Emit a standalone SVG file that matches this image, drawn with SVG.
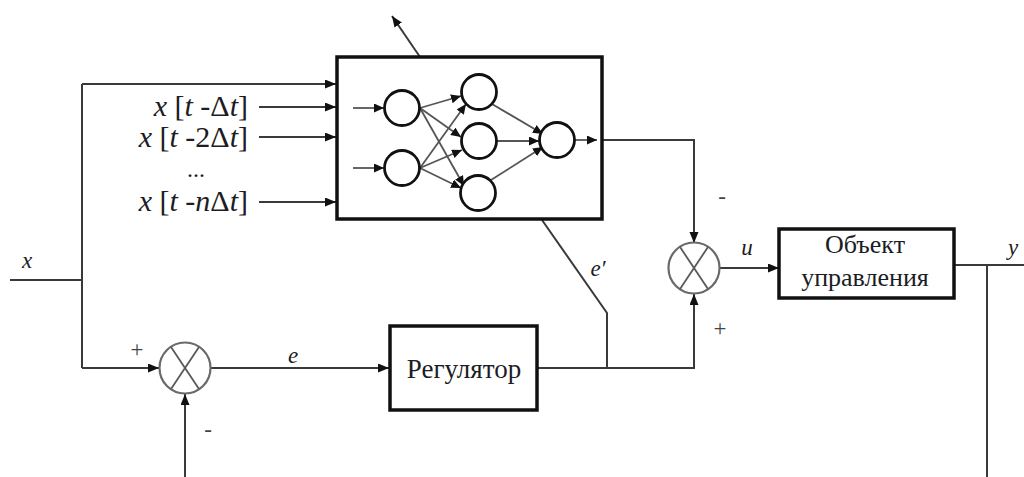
<svg xmlns="http://www.w3.org/2000/svg" width="1024" height="477" viewBox="0 0 1024 477">
<style>
.bg{fill:#ffffff}
.ln{fill:none;stroke:#3a3a3a;stroke-width:2}
.nl{fill:none;stroke:#555;stroke-width:1.8}
.box{fill:#ffffff;stroke:#111;stroke-width:3.5}
.neu{fill:#ffffff;stroke:#111;stroke-width:2.8}
.sum{fill:#ffffff;stroke:#6a6a6a;stroke-width:2.2}
.sx{stroke:#5a5a5a;stroke-width:1.8}
text{font-family:"Liberation Serif","Times New Roman",serif;fill:#1c1c24}
.lab{font-size:30px}
.dots{font-size:24px}
.i{font-style:italic}
.t{font-size:27px}
.t2{font-size:26px}
.s{font-size:23px}
.pm{font-size:23px;fill:#444}
</style>
<defs>
<marker id="a" markerUnits="userSpaceOnUse" markerWidth="12" markerHeight="10" refX="11" refY="4.5" orient="auto">
<path d="M0,0 L11,4.5 L0,9 z" fill="#111"/>
</marker>
<marker id="b" markerUnits="userSpaceOnUse" markerWidth="11" markerHeight="10" refX="10" refY="4.5" orient="auto">
<path d="M0,0 L10,4.5 L0,9 z" fill="#111"/>
</marker>
</defs>
<rect class="bg" x="0" y="0" width="1024" height="477"/>

<g id="connectors">
<path class="ln" d="M10,280 H82"/>
<path class="ln" d="M82,84 V368"/>
<path class="ln" d="M82,84 H336" marker-end="url(#a)"/>
<path class="ln" d="M82,368 H159" marker-end="url(#a)"/>
<path class="ln" d="M259,107 H336" marker-end="url(#a)"/>
<path class="ln" d="M259,137 H336" marker-end="url(#a)"/>
<path class="ln" d="M259,202 H336" marker-end="url(#a)"/>
<path class="ln" d="M211,368 H389" marker-end="url(#a)"/>
<path class="ln" d="M185,477 V394" marker-end="url(#a)"/>
<path class="ln" d="M538,368 H694 V294" marker-end="url(#a)"/>
<path class="ln" d="M607,368 V313 L542,220"/>
<path class="ln" d="M602,140 H694 V243" marker-end="url(#a)"/>
<path class="ln" d="M720,268 H779" marker-end="url(#a)"/>
<path class="ln" d="M955,265 H1024"/>
<path class="ln" d="M987,265 V477"/>
<path class="ln" d="M420,57 L392,16" marker-end="url(#a)"/>
</g>

<g id="inputs">
<text class="lab" x="248" y="116" text-anchor="end"><tspan class="i">x</tspan> [<tspan class="i">t</tspan> -Δ<tspan class="i">t</tspan>]</text>
<text class="lab" x="248" y="147" text-anchor="end"><tspan class="i">x</tspan> [<tspan class="i">t</tspan> -2Δ<tspan class="i">t</tspan>]</text>
<text class="dots" x="196" y="177" text-anchor="middle">...</text>
<text class="lab" x="248" y="211" text-anchor="end"><tspan class="i">x</tspan> [<tspan class="i">t</tspan> -<tspan class="i">n</tspan>Δ<tspan class="i">t</tspan>]</text>
</g>

<g id="neural-network">
<rect class="box" x="337" y="57" width="265" height="162"/>
<path class="nl" d="M353,108 H384" marker-end="url(#b)"/>
<path class="nl" d="M353,168 H384" marker-end="url(#b)"/>
<path class="nl" d="M420,108 L461,96" marker-end="url(#b)"/>
<path class="nl" d="M420,108 L461,137" marker-end="url(#b)"/>
<path class="nl" d="M420,108 L464,186" marker-end="url(#b)"/>
<path class="nl" d="M420,168 L466,104" marker-end="url(#b)"/>
<path class="nl" d="M420,168 L462,150" marker-end="url(#b)"/>
<path class="nl" d="M420,168 L461,188" marker-end="url(#b)"/>
<path class="nl" d="M492,104 L543,134" marker-end="url(#b)"/>
<path class="nl" d="M497,141 H539" marker-end="url(#b)"/>
<path class="nl" d="M491,180 L543,147" marker-end="url(#b)"/>
<path class="nl" d="M575,140 H597" marker-end="url(#b)"/>
<circle class="neu" cx="402" cy="108" r="17.5"/>
<circle class="neu" cx="402" cy="168" r="17.5"/>
<circle class="neu" cx="479" cy="92" r="17.5"/>
<circle class="neu" cx="479" cy="141" r="17.5"/>
<circle class="neu" cx="478" cy="193" r="17.5"/>
<circle class="neu" cx="557" cy="140" r="17.5"/>
</g>

<g id="sum1">
<circle class="sum" cx="185" cy="368" r="25.5"/>
<line class="sx" x1="171" y1="347" x2="199" y2="389"/>
<line class="sx" x1="199" y1="347" x2="171" y2="389"/>
<text class="pm" x="137" y="357" text-anchor="middle">+</text>
<text class="pm" x="208" y="437" text-anchor="middle">-</text>
</g>

<g id="sum2">
<circle class="sum" cx="694" cy="268" r="25.5"/>
<line class="sx" x1="680" y1="247" x2="708" y2="289"/>
<line class="sx" x1="708" y1="247" x2="680" y2="289"/>
<text class="pm" x="722" y="204" text-anchor="middle">-</text>
<text class="pm" x="720" y="336" text-anchor="middle">+</text>
</g>

<g id="regulator">
<rect class="box" x="390" y="326" width="147" height="84"/>
<text class="t" x="464" y="378" text-anchor="middle">Регулятор</text>
</g>

<g id="plant">
<rect class="box" x="779" y="229" width="175" height="69"/>
<text class="t2" x="865" y="253" text-anchor="middle">Объект</text>
<text class="t2" x="865" y="286" text-anchor="middle">управления</text>
</g>

<g id="labels">
<text class="s i" x="27" y="268" text-anchor="middle">x</text>
<text class="s i" x="293" y="363" text-anchor="middle">e</text>
<text class="s i" x="598" y="276" text-anchor="middle">e′</text>
<text class="s i" x="747" y="255" text-anchor="middle">u</text>
<text class="s i" x="1013" y="255" text-anchor="middle">y</text>
</g>
</svg>
